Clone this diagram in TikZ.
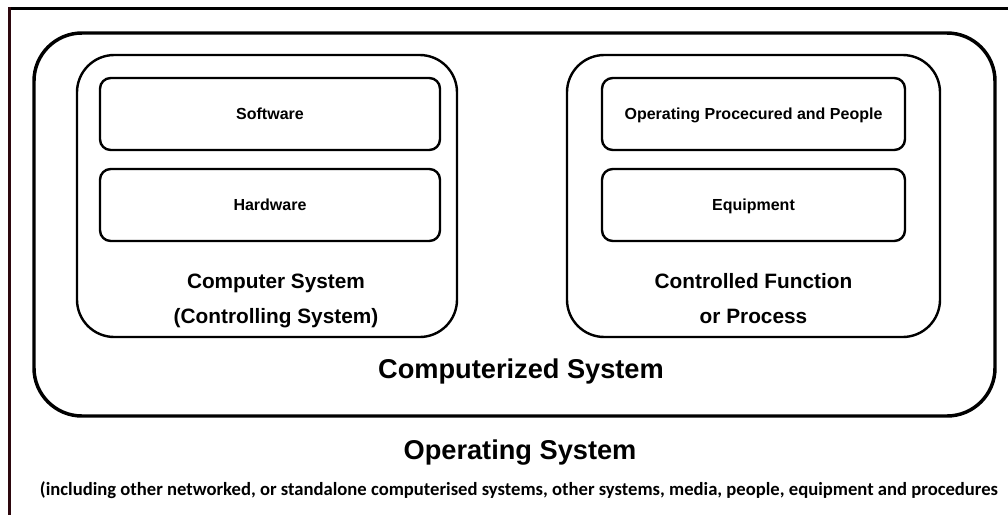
\documentclass[tikz,border=0pt]{standalone}
\usepackage{fontspec}
\setmainfont{Liberation Sans}
\newfontfamily\calib{Carlito}
\definecolor{framedark}{RGB}{45,8,14}
\begin{document}
\begin{tikzpicture}[x=0.75pt,y=-0.75pt,
  outerbox/.style={draw, line width=2.6pt, rounded corners=36pt, inner sep=0pt},
  midbox/.style={draw, line width=1.8pt, rounded corners=28pt, inner sep=0pt},
  innerbox/.style={draw, line width=1.8pt, rounded corners=8pt, inner sep=0pt, minimum height=54pt, text height=8.6pt, text depth=0pt, font=\bfseries\fontsize{12}{14}\selectfont},
  sublabel/.style={align=center, inner sep=0pt, font=\bfseries\fontsize{15.6}{26.25}\selectfont},
  biglabel/.style={inner sep=0pt, text height=14.6pt, text depth=0pt, font=\bfseries\fontsize{20.4}{24}\selectfont}]
\useasboundingbox (0,0) rectangle (1008,515);
\fill[white] (0,0) rectangle (1008,515);
% frame (top and left edges)
\draw[line width=2.2pt] (8,8.5) -- (1008,8.5);
\draw[framedark, line width=1.8pt] (9.5,7) -- (9.5,515);
% boxes
\node[outerbox, minimum width=720.75pt, minimum height=287.25pt] (comp) at (514.5,224.5) {};
\node[midbox, minimum width=285pt, minimum height=211.5pt] (csys) at (267,196) {};
\node[midbox, minimum width=279.75pt, minimum height=211.5pt] (cfun) at (753.5,196) {};
\node[innerbox, minimum width=255pt] (sw) at (270,114) {Software};
\node[innerbox, minimum width=255pt] (hw) at (270,205) {Hardware};
\node[innerbox, minimum width=227.25pt] (opp) at (753.5,114) {Operating Procecured and People};
\node[innerbox, minimum width=227.25pt] (eq) at (753.5,205) {Equipment};
% labels
\node[sublabel] (csyslbl) at (276,299) {Computer System\strut\\(Controlling System)\strut};
\node[sublabel] (cfunlbl) at (753.5,299) {Controlled Function\strut\\or Process\strut};
\node[biglabel] (complbl) at (521,369) {Computerized System};
\node[biglabel] (oslbl) at (520,450) {Operating System};
\node[inner sep=0pt] (note) at (519,490) {\resizebox{718.5pt}{!}{\calib\bfseries\fontsize{13}{15}\selectfont (including other networked, or standalone computerised systems, other systems, media, people, equipment and procedures}};
\end{tikzpicture}
\end{document}
